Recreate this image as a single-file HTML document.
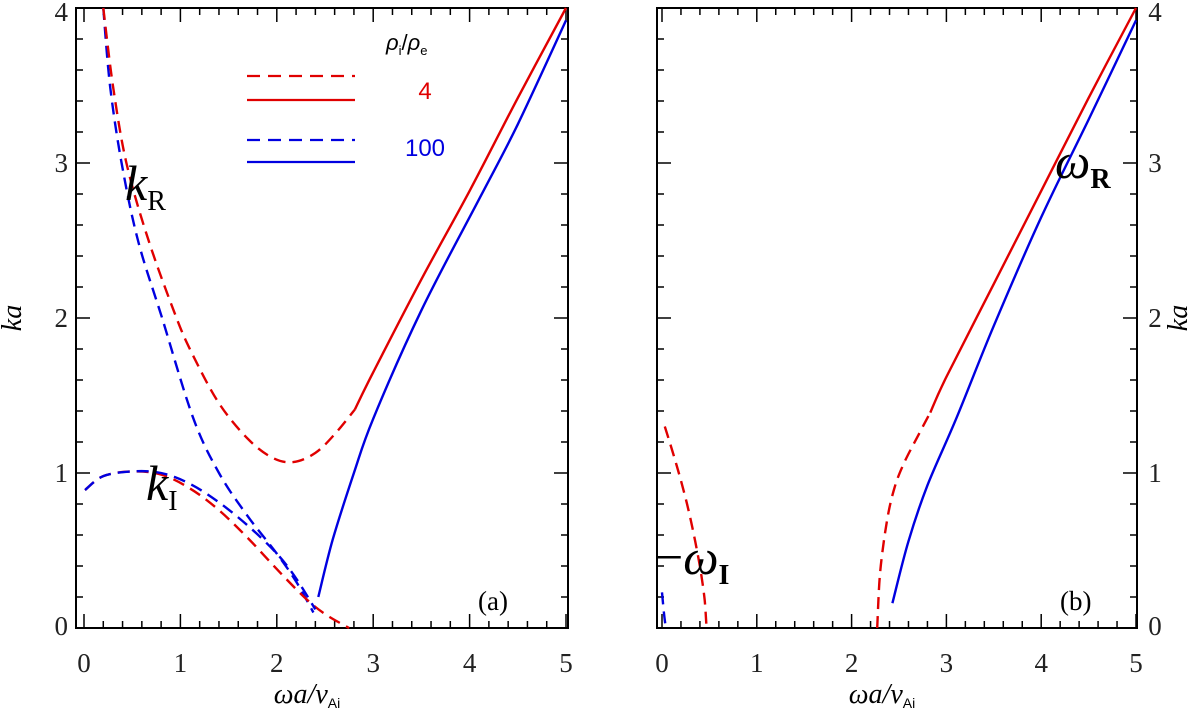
<!DOCTYPE html>
<html><head><meta charset="utf-8"><style>
body{margin:0;background:#fff;}
svg{display:block;font-family:"Liberation Serif",serif;}
</style></head><body>
<svg id="c" width="1200" height="713"></svg>
<script>
// data arrays
const xTicks=[0,1,2,3,4,5];
const yTicks=[0,1,2,3,4];
const aKR4X=[0.2,0.3,0.44,0.67,0.96,1.13,1.4,1.7,1.95,2.17,2.4,2.6,2.81];
const aKR4Y=[4.05,3.5,3.0,2.5,2.0,1.76,1.45,1.22,1.1,1.07,1.13,1.25,1.41];
const aKR100X=[0.2,0.27,0.39,0.56,0.81,1.13,1.4,1.7,2.0,2.2,2.38];
const aKR100Y=[4.05,3.5,3.0,2.5,2.0,1.36,1.0,0.72,0.48,0.3,0.1];
const aKI4X=[0.01,0.2,0.5,0.8,1.1,1.4,1.7,2.0,2.3,2.5,2.75];
const aKI4Y=[0.89,0.98,1.01,0.99,0.9,0.76,0.58,0.38,0.19,0.09,0.0];
const aKI100X=[0.01,0.2,0.5,0.8,1.1,1.4,1.7,2.0,2.2,2.4];
const aKI100Y=[0.89,0.98,1.01,1.0,0.93,0.81,0.66,0.48,0.32,0.12];
const aS4X=[2.81,3.0,3.5,4.0,4.5,5.0];
const aS4Y=[1.41,1.65,2.25,2.82,3.42,4.02];
const aS100X=[2.43,2.58,2.8,3.0,3.5,4.11,4.5,5.0];
const aS100Y=[0.2,0.57,1.0,1.35,2.05,2.78,3.25,3.92];
const bWI4X=[0.03,0.12,0.2,0.28,0.35,0.41,0.45,0.47];
const bWI4Y=[1.3,1.12,0.95,0.76,0.56,0.36,0.18,0.0];
const bWI100X=[0.0,0.02,0.04];
const bWI100Y=[0.23,0.1,0.0];
const bWR4dX=[2.27,2.3,2.37,2.45,2.55,2.7,2.83];
const bWR4dY=[0.0,0.35,0.68,0.9,1.06,1.24,1.39];
const bWR4X=[2.83,3.0,3.5,4.0,4.5,5.0];
const bWR4Y=[1.39,1.62,2.22,2.82,3.42,4.02];
const bWR100X=[2.43,2.6,2.8,3.11,3.5,4.0,4.5,5.0];
const bWR100Y=[0.16,0.56,0.92,1.36,1.95,2.65,3.28,3.92];

const NS="http://www.w3.org/2000/svg";
const svg=document.getElementById('c');
function el(t,a,p){const e=document.createElementNS(NS,t);for(const k in a)e.setAttribute(k,a[k]);(p||svg).appendChild(e);return e;}
function mkPanel(x0,ux,fl,fr,right){
  const g=el('g',{});
  
  
  const X=v=>x0+v*ux, Y=v=>628-v*155;
  const fr0=el('rect',{x:fl,y:8,width:fr-fl,height:620,fill:'none',stroke:'#000','stroke-width':2},g);
  
  
  for(let v=0;v<=5.001;v+=0.2){const x=X(v),maj=Math.abs(v-Math.round(v))<1e-6;
    el('line',{x1:x,x2:x,y1:628,y2:628-(maj?14:7),stroke:'#000','stroke-width':1.5},g);
    el('line',{x1:x,x2:x,y1:8,y2:8+(maj?14:7),stroke:'#000','stroke-width':1.5},g);}
  for(let v=0;v<=4.001;v+=0.2){const y=Y(v),maj=Math.abs(v-Math.round(v))<1e-6;
    el('line',{x1:fl,x2:fl+(maj?14:7),y1:y,y2:y,stroke:'#000','stroke-width':1.5},g);
    el('line',{x1:fr,x2:fr-(maj?14:7),y1:y,y2:y,stroke:'#000','stroke-width':1.5},g);}
  xTicks.forEach(v=>{const t=el('text',{x:X(v),y:672,'font-size':27,'text-anchor':'middle',fill:'#222'},g);t.textContent=v;
    
    });
  yTicks.forEach(v=>{const t=el('text',{x:right?fr+18:fl-8,y:Y(v)+9+(v==0?-2:0)+(v==4?4:0),'font-size':27,'text-anchor':right?'middle':'end',fill:'#222'},g);t.textContent=v;
    
    });
  const xt=el('text',{x:(fl+fr)/2-15,y:703,'font-size':28,'font-style':'italic','text-anchor':'middle'},g);
  xt.innerHTML='ωa/v<tspan font-size="14" font-style="normal" font-family="Liberation Sans" dy="5">Ai</tspan>';
  
  
  const yx=right?fr+50:fl-55, yt=el('text',{x:yx,y:318,'font-size':28,'font-style':'italic','text-anchor':'middle',transform:`rotate(-90 ${yx} 318)`},g);
  yt.textContent='ka';
  
  
  return {g,X,Y};
}
function curve(P,xs,ys,col,dash,name){
  const pts=xs.map((v,i)=>[P.X(v),Math.max(8,Math.min(628,P.Y(ys[i])))]);
  let d='M'+pts[0][0].toFixed(1)+' '+pts[0][1].toFixed(1);
  for(let i=0;i<pts.length-1;i++){
    const p0=pts[Math.max(0,i-1)],p1=pts[i],p2=pts[i+1],p3=pts[Math.min(pts.length-1,i+2)];
    const c1=[p1[0]+(p2[0]-p0[0])/6,p1[1]+(p2[1]-p0[1])/6],c2=[p2[0]-(p3[0]-p1[0])/6,p2[1]-(p3[1]-p1[1])/6];
    d+=` C${c1[0].toFixed(1)} ${c1[1].toFixed(1)} ${c2[0].toFixed(1)} ${c2[1].toFixed(1)} ${p2[0].toFixed(1)} ${p2[1].toFixed(1)}`;
  }
  const p=el('path',{d,fill:'none',stroke:col,'stroke-width':2.4,'stroke-dasharray':dash?'12 7':'none'},P.g);
  
  
}
const R='#e00000',B='#0000e0';
const A=mkPanel(84,96.4,76,568,false);
curve(A,aKR100X,aKR100Y,B,true,'kr-rho100');
curve(A,aKR4X,aKR4Y,R,true,'kr-rho4');
curve(A,aKI4X,aKI4Y,R,true,'ki-rho4');
curve(A,aKI100X,aKI100Y,B,true,'ki-rho100');
curve(A,aS4X,aS4Y,R,false,'solid-rho4');
curve(A,aS100X,aS100Y,B,false,'solid-rho100');
const Bp=mkPanel(662,94.8,657,1137,true);
curve(Bp,bWI4X,bWI4Y,R,true,'wi-rho4');
curve(Bp,bWI100X,bWI100Y,B,true,'wi-rho100');
curve(Bp,bWR4dX,bWR4dY,R,true,'wr-dashed-rho4');
curve(Bp,bWR4X,bWR4Y,R,false,'wr-rho4');
curve(Bp,bWR100X,bWR100Y,B,false,'wr-rho100');
function txt(x,y,html,attrs,name){const t=el('text',Object.assign({x,y},attrs));t.innerHTML=html;
  
  }
txt(125,200,'<tspan font-style="italic">k</tspan><tspan font-size="28" dy="10">R</tspan>',{'font-size':50},'label-kr');
txt(146,500,'<tspan font-style="italic">k</tspan><tspan font-size="28" dy="10">I</tspan>',{'font-size':50},'label-ki');
txt(1055,178,'<tspan font-style="italic">ω</tspan><tspan font-size="28" font-weight="bold" dy="10">R</tspan>',{'font-size':50},'label-wr');
txt(655,574,'−<tspan font-style="italic">ω</tspan><tspan font-size="28" font-weight="bold" dy="10">I</tspan>',{'font-size':50},'label-wi');
txt(478,610,'(a)',{'font-size':27},'panel-label-a');
txt(1060,610,'(b)',{'font-size':27},'panel-label-b');
txt(386,50,'<tspan font-style="italic">ρ</tspan><tspan font-size="13" dy="5">i</tspan><tspan dy="-5">/</tspan><tspan font-style="italic">ρ</tspan><tspan font-size="13" dy="5">e</tspan>',{'font-size':22,'font-family':'Liberation Sans'},'legend-title');
[[76,R,true],[100,R,false],[140,B,true],[162,B,false]].forEach(([y,c,d])=>{
  const l=el('line',{x1:247,x2:355,y1:y,y2:y,stroke:c,'stroke-width':2.2,'stroke-dasharray':d?'13 8':'none'});
  
  
});
txt(425,99,'4',{'font-size':24,fill:R,'text-anchor':'middle','font-family':'Liberation Sans'},'legend-label-4');
txt(425,156,'100',{'font-size':24,fill:B,'text-anchor':'middle','font-family':'Liberation Sans'},'legend-label-100');
</script>
</body></html>
